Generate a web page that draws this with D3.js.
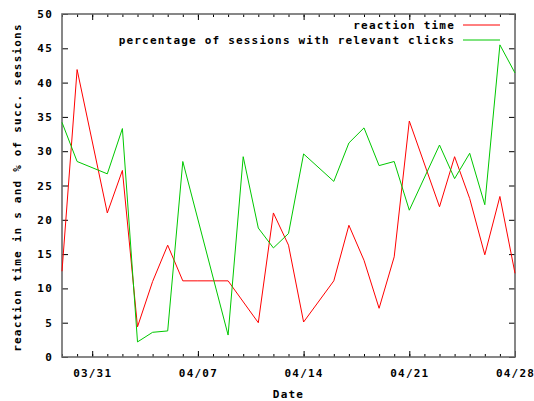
<!DOCTYPE html>
<html>
<head>
<meta charset="utf-8">
<script src="https://cdn.jsdelivr.net/npm/d3@7"></script>
<style>
  body { margin: 0; background: #fff; }
  text { font-family: "DejaVu Sans Mono", "Liberation Mono", monospace; font-weight: bold; font-size: 11px; letter-spacing: 1.2px; fill: #000; }
</style>
</head>
<body>
<svg id="chart" width="534" height="401"></svg>
<script>
// ---- data ----
const reactionDates = ["03/29","03/30","04/01","04/02","04/03","04/04","04/05","04/06","04/07","04/08","04/09","04/11","04/12","04/13","04/14","04/16","04/17","04/18","04/19","04/20","04/21","04/23","04/24","04/25","04/26","04/27","04/28"];
const reactionValues = [12.5, 41.9, 21.0, 27.2, 4.4, 11.0, 16.3, 11.1, 11.1, 11.1, 11.1, 5.0, 21.0, 16.3, 5.1, 11.1, 19.2, 14.1, 7.1, 14.6, 34.4, 21.9, 29.2, 23.1, 14.9, 23.4, 12.2];

const clicksDates = ["03/29","03/30","04/01","04/02","04/03","04/04","04/05","04/06","04/09","04/10","04/11","04/12","04/13","04/14","04/16","04/17","04/18","04/19","04/20","04/21","04/23","04/24","04/25","04/26","04/27","04/28"];
const clicksValues = [34.2, 28.5, 26.7, 33.3, 2.2, 3.6, 3.8, 28.5, 3.2, 29.2, 18.8, 15.9, 18.0, 29.6, 25.6, 31.2, 33.4, 27.9, 28.5, 21.4, 30.9, 26.0, 29.7, 22.2, 45.5, 41.4];

const seriesNames = ["reaction time", "percentage of sessions with relevant clicks"];
const seriesColors = ["#ff0000", "#00c800"];
const xTickLabels = ["03/31", "04/07", "04/14", "04/21", "04/28"];
const yTicks = [0, 5, 10, 15, 20, 25, 30, 35, 40, 45, 50];
const xDomain = ["03/29", "04/28"];
const year = 2010;

// ---- chart ----
const parse = s => d3.timeParse("%Y/%m/%d")(year + "/" + s);
const svg = d3.select("#chart");
const L = 62, R = 515, T = 14, B = 357;

const x = d3.scaleTime().domain(xDomain.map(parse)).range([L, R]);
const y = d3.scaleLinear().domain([0, 50]).range([B, T]);

const fmt = d3.timeFormat("%m/%d");
const majorTicks = xTickLabels.map(parse);

// minor daily ticks (bottom & top)
svg.append("g").attr("transform", `translate(0,${B})`)
  .call(d3.axisBottom(x).ticks(d3.timeDay.every(1)).tickSize(-3).tickFormat(""))
  .call(g => g.select(".domain").remove());
svg.append("g").attr("transform", `translate(0,${T})`)
  .call(d3.axisTop(x).ticks(d3.timeDay.every(1)).tickSize(-3).tickFormat(""))
  .call(g => g.select(".domain").remove());

// major x ticks
svg.append("g").attr("transform", `translate(0,${B})`)
  .call(d3.axisBottom(x).tickValues(majorTicks).tickSize(-6).tickPadding(12).tickFormat(fmt))
  .call(g => g.select(".domain").remove())
  .call(g => g.selectAll("text").attr("font-size", null).attr("font-family", null));
svg.append("g").attr("transform", `translate(0,${T})`)
  .call(d3.axisTop(x).tickValues(majorTicks).tickSize(-6).tickFormat(""))
  .call(g => g.select(".domain").remove());

// y ticks left & right
svg.append("g").attr("transform", `translate(${L},0)`)
  .call(d3.axisLeft(y).tickValues(yTicks).tickSize(-6).tickPadding(9).tickFormat(d3.format("d")))
  .call(g => g.select(".domain").remove())
  .call(g => g.selectAll("text").attr("font-size", null).attr("font-family", null));
svg.append("g").attr("transform", `translate(${R},0)`)
  .call(d3.axisRight(y).tickValues(yTicks).tickSize(-6).tickFormat(""))
  .call(g => g.select(".domain").remove());

svg.selectAll(".tick line").attr("stroke", "#000").attr("stroke-width", 1);

// border
svg.append("rect").attr("x", L).attr("y", T).attr("width", R - L).attr("height", B - T)
  .attr("fill", "none").attr("stroke", "#6a6a6a").attr("stroke-width", 1.6);

// series
const line = d3.line().x(d => x(d[0])).y(d => y(d[1]));
const data = [
  reactionDates.map((d, i) => [parse(d), reactionValues[i]]),
  clicksDates.map((d, i) => [parse(d), clicksValues[i]])
];
data.forEach((s, i) => {
  svg.append("path").datum(s).attr("d", line)
    .attr("fill", "none").attr("stroke", seriesColors[i]).attr("stroke-width", 1);
});

// legend
seriesNames.forEach((name, i) => {
  const ly = 25 + i * 15;
  svg.append("text").attr("x", 455).attr("y", ly).attr("dy", "0.35em")
    .attr("text-anchor", "end").text(name);
  svg.append("line").attr("x1", 463).attr("x2", 500).attr("y1", ly).attr("y2", ly)
    .attr("stroke", seriesColors[i]).attr("stroke-width", 1);
});

// axis labels
svg.append("text").attr("x", (L + R) / 2).attr("y", 398).attr("text-anchor", "middle").text("Date");
svg.append("text").attr("transform", `translate(20.5,${(T + B) / 2 + 2}) rotate(-90)`)
  .attr("text-anchor", "middle").text("reaction time in s and % of succ. sessions");
</script>
</body>
</html>
